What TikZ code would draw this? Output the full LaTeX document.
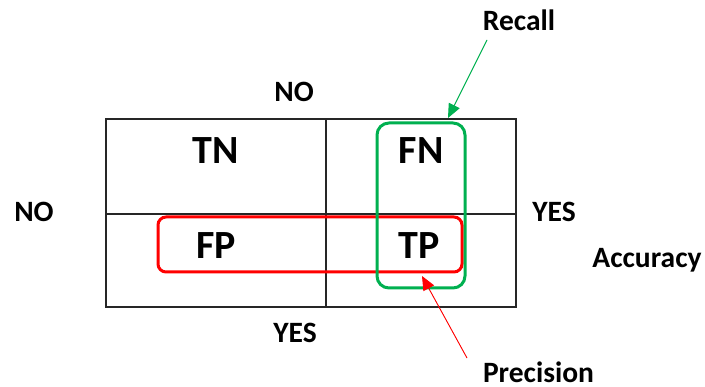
\documentclass[tikz,border=0pt]{standalone}
\usepackage{fontspec}
\setmainfont{Carlito}
\usetikzlibrary{arrows.meta}
\definecolor{boxgreen}{RGB}{0,176,80}
\definecolor{boxred}{RGB}{255,0,0}
\begin{document}
\begin{tikzpicture}[x=1pt,y=-1pt,
  cell/.style={font=\fontsize{40}{42}\selectfont\bfseries, inner sep=0pt, anchor=base},
  axis/.style={font=\fontsize{29.5}{31}\selectfont\bfseries, inner sep=0pt, anchor=base},
  grid/.style={draw=black!85, line width=2pt},
  greenbox/.style={draw=boxgreen, line width=3pt, rounded corners=12pt, minimum width=88pt, minimum height=165pt, inner sep=0pt},
  redbox/.style={draw=boxred, line width=3pt, rounded corners=8pt, minimum width=304pt, minimum height=55pt, inner sep=0pt},
  pointer/.style={line width=0.9pt, -{Triangle[length=14pt,width=12pt]}}]
\useasboundingbox (0,0) rectangle (705,387);
% table
\coordinate (tl) at (106,119);
\coordinate (br) at (516,307);
\coordinate (mt) at (326,119);
\coordinate (mb) at (326,307);
\coordinate (ml) at (106,214);
\coordinate (mr) at (516,214);
\draw[grid] (tl) rectangle (br);
\draw[grid] (mt) -- (mb);
\draw[grid] (ml) -- (mr);
% cells
\node[cell] (tn) at (215.5,164) {TN};
\node[cell] (fn) at (421,164) {FN};
\node[cell] (fp) at (216,259) {FP};
\node[cell] (tp) at (419,259) {TP};
% boxes
\node[redbox] (red) at (310,244.5) {};
\node[greenbox] (green) at (421,205.5) {};
% axis labels
\node[axis] (notop) at (294,102) {NO};
\node[axis] (noleft) at (34,222) {NO};
\node[axis] (yesright) at (554,222) {YES};
\node[axis] (yesbottom) at (295,343) {YES};
\node[axis] (acc) at (647,268) {Accuracy};
\node[axis] (recall) at (519,31) {Recall};
\node[axis] (prec) at (538.5,383) {Precision};
% pointers
\coordinate (rs) at (487,40);
\coordinate (rt) at (448,118);
\coordinate (ps) at (467,358);
\coordinate (pt) at (422,276);
\draw[pointer, draw=boxgreen, fill=boxgreen] (rs) -- (rt);
\draw[pointer, draw=boxred, fill=boxred] (ps) -- (pt);
\end{tikzpicture}
\end{document}
